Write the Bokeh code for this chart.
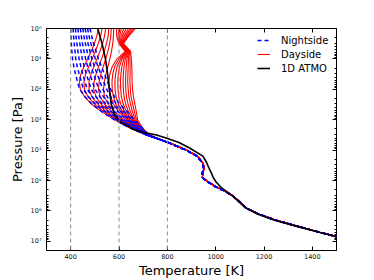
import numpy as np
from bokeh.plotting import figure
from bokeh.models import Range1d, FixedTicker, LinearAxis, LogAxis, Span, Legend, LegendItem
from bokeh.embed import file_html
from bokeh.resources import INLINE

# ---------------- data ----------------
# pressure levels [Pa] of the upper (diverging) part of the profiles
P_UPPER = [1, 1.78, 3.16, 5.62, 10, 17.8, 31.6, 56.2, 100, 178, 316, 562, 1000, 1780, 3160]
# pressure levels [Pa] of the deep part where all 3D profiles nearly coincide
P_DEEP = [5620, 1.0e4, 1.58e4, 2.51e4, 3.16e4, 3.98e4, 5.62e4, 7.94e4, 1.12e5, 1.58e5,
          2.24e5, 3.16e5, 5.01e5, 7.94e5, 1.26e6, 2.0e6, 3.16e6, 5.01e6, 7.94e6, 1.26e7, 2.0e7]
T_DEEP_DAY = [805, 880, 925, 945, 950, 952, 947, 945, 970, 1000,
              1040, 1071, 1100, 1126, 1178, 1248, 1337, 1430, 1528, 1625, 1720]
T_DEEP_NIGHT = [803, 878, 923, 943, 948, 950, 945, 944, 968, 998,
                1038, 1070, 1099, 1125, 1177, 1247, 1336, 1430, 1528, 1625, 1720]

# nightside profiles, temperature [K] at P_UPPER
NIGHT_UPPER = [
    [400, 401, 403, 405, 408, 413, 420, 428, 437, 460, 490, 532, 581, 640, 712],
    [410, 412, 415, 418, 421, 427, 435, 444, 453, 475, 504, 545, 591, 647, 713],
    [420, 422, 426, 430, 435, 442, 450, 459, 469, 490, 519, 558, 601, 654, 714],
    [430, 433, 438, 443, 448, 456, 465, 475, 485, 506, 533, 571, 611, 661, 716],
    [440, 444, 449, 455, 462, 470, 480, 490, 501, 521, 548, 584, 622, 668, 717],
    [450, 455, 461, 468, 475, 484, 495, 506, 517, 536, 562, 598, 632, 674, 718],
    [460, 466, 472, 480, 488, 498, 510, 521, 533, 552, 576, 611, 642, 681, 719],
    [470, 476, 484, 493, 502, 513, 525, 537, 549, 567, 591, 624, 652, 688, 721],
    [480, 487, 495, 505, 515, 527, 540, 552, 565, 582, 605, 637, 662, 695, 722],
]

# dayside profiles, temperature [K] at P_UPPER
DAY_UPPER = [
    [515, 508, 498, 485, 470, 455, 442, 436, 440, 458, 488, 530, 582, 638, 712],
    [530, 524, 514, 502, 489, 475, 462, 455, 457, 472, 500, 540, 590, 643, 713],
    [545, 540, 532, 521, 509, 496, 484, 476, 476, 488, 513, 550, 598, 648, 714],
    [558, 555, 548, 539, 528, 516, 505, 497, 495, 505, 527, 561, 606, 654, 715],
    [568, 566, 561, 554, 545, 535, 525, 518, 515, 522, 541, 572, 614, 660, 716],
    [578, 577, 574, 569, 562, 554, 546, 539, 536, 540, 556, 584, 622, 666, 717],
    [590, 590, 600, 626, 592, 572, 562, 558, 560, 566, 578, 600, 632, 668, 716],
    [600, 596, 602, 629, 600, 582, 574, 571, 572, 577, 588, 608, 637, 671, 717],
    [610, 602, 604, 632, 607, 592, 586, 583, 584, 588, 598, 616, 642, 674, 718],
    [620, 608, 606, 635, 613, 602, 597, 595, 596, 599, 608, 624, 647, 677, 719],
    [630, 614, 608, 638, 620, 612, 608, 606, 607, 610, 618, 632, 652, 680, 720],
    [640, 620, 610, 640, 626, 621, 618, 617, 618, 621, 628, 640, 657, 683, 721],
    [648, 626, 612, 642, 633, 630, 628, 627, 628, 631, 638, 648, 662, 686, 722],
    [655, 631, 614, 644, 639, 638, 637, 636, 638, 641, 648, 656, 667, 689, 723],
    [662, 636, 616, 646, 645, 646, 646, 645, 647, 650, 657, 664, 672, 692, 724],
    [668, 640, 618, 648, 651, 653, 654, 654, 656, 660, 666, 672, 677, 695, 725],
]

# 1D ATMO profile
ATMO_P = [1, 3.16, 10, 31.6, 100, 316, 708, 1000, 1260, 1580, 2000, 2510, 3160, 3980,
          5620, 8510, 1.58e4, 2.51e4, 3.55e4, 5.62e4, 7.94e4, 1.12e5, 1.70e5, 2.45e5,
          3.16e5, 5.01e5, 7.94e5, 1.26e6, 2.0e6, 3.16e6, 5.01e6, 7.94e6, 2.0e7]
ATMO_T = [512, 530, 544, 553, 560, 568, 582, 597, 608, 635, 655, 690, 755, 795,
          848, 892, 947, 962, 970, 982, 990, 1002, 1023, 1050,
          1068, 1097, 1123, 1172, 1240, 1332, 1428, 1525, 1720]

REF_TEMPS = [400, 600, 800]
X_TICKS = [400, 600, 800, 1000, 1200, 1400]
Y_TICKS = [1, 10, 100, 1000, 10000, 100000, 1000000, 10000000]
Y_LABELS = ["10\u2070", "10\u00b9", "10\u00b2", "10\u00b3", "10\u2074", "10\u2075", "10\u2076", "10\u2077"]

# ---------------- figure ----------------
FONT = "DejaVu Sans"
p = figure(width=373, height=280, output_backend="svg", toolbar_location=None,
           x_range=Range1d(300, 1500), y_range=Range1d(2e7, 1), y_axis_type="log",
           min_border_left=46, min_border_right=37, min_border_top=28, min_border_bottom=28)
p.grid.visible = False
p.outline_line_color = "black"
p.outline_line_width = 1
p.background_fill_color = "white"

for t in REF_TEMPS:
    p.add_layout(Span(location=t, dimension="height", line_color="#8c8c8c",
                      line_dash="4 3", line_width=1))

day_xs = [row + T_DEEP_DAY for row in DAY_UPPER]
day_ys = [P_UPPER + P_DEEP for _ in DAY_UPPER]
# nightside: upper part down to the first deep level, then the shared deep part
night_up_xs = [row + T_DEEP_NIGHT[:1] for row in NIGHT_UPPER]
night_up_ys = [P_UPPER + P_DEEP[:1] for _ in NIGHT_UPPER]
night_deep_xs = [T_DEEP_NIGHT for _ in NIGHT_UPPER]
night_deep_ys = [P_DEEP for _ in NIGHT_UPPER]

r_day = p.multi_line(day_xs, day_ys, line_color="red", line_width=1.1)
r_night = p.multi_line(night_up_xs, night_up_ys, line_color="blue", line_width=1.5, line_dash="4 3")
p.multi_line(night_deep_xs, night_deep_ys, line_color="blue", line_width=1.5, line_dash="4 3")
r_atmo = p.line(ATMO_T, ATMO_P, line_color="black", line_width=1.6)

x_ticker = FixedTicker(ticks=X_TICKS)
minor = [m * 10 ** k for k in range(0, 8) for m in range(2, 10) if m * 10 ** k <= 2e7]
y_ticker = FixedTicker(ticks=Y_TICKS, minor_ticks=minor)

def style(ax):
    ax.axis_line_color = None
    ax.major_tick_in = 4
    ax.major_tick_out = 0
    ax.minor_tick_in = 2
    ax.minor_tick_out = 0
    ax.major_tick_line_color = "black"
    ax.minor_tick_line_color = "black"
    ax.major_label_text_font = FONT
    ax.major_label_text_font_size = "6.5px"
    ax.major_label_text_color = "#111111"
    ax.axis_label_text_font = FONT
    ax.axis_label_text_font_size = "13px"
    ax.axis_label_text_font_style = "normal"
    ax.axis_label_text_color = "black"

xa = p.xaxis[0]
xa.ticker = x_ticker
xa.axis_label = "Temperature [K]"
style(xa)
xa.major_label_standoff = 3
xa.axis_label_standoff = 1

ya = p.yaxis[0]
ya.ticker = y_ticker
ya.major_label_overrides = {t: lab for t, lab in zip(Y_TICKS, Y_LABELS)}
ya.axis_label = "Pressure [Pa]"
style(ya)
ya.major_label_standoff = 5
ya.axis_label_standoff = 3

top = LinearAxis(ticker=x_ticker)
style(top)
top.minor_tick_in = 0
top.major_label_overrides = {t: "" for t in X_TICKS}
p.add_layout(top, "above")

right = LogAxis(ticker=y_ticker)
style(right)
right.major_label_overrides = {t: "" for t in Y_TICKS}
p.add_layout(right, "right")

legend = Legend(items=[LegendItem(label="Nightside", renderers=[r_night]),
                       LegendItem(label="Dayside", renderers=[r_day]),
                       LegendItem(label="1D ATMO", renderers=[r_atmo])],
                location="top_right")
legend.label_text_font = FONT
legend.label_text_font_size = "10px"
legend.label_text_color = "black"
legend.background_fill_alpha = 0
legend.border_line_alpha = 0
legend.glyph_width = 13
legend.glyph_height = 14
legend.label_height = 14
legend.label_width = 50
legend.label_standoff = 11
legend.spacing = 0
legend.padding = 0
legend.margin = 5
p.add_layout(legend, "center")

open("out.html", "w").write(file_html(p, INLINE))
